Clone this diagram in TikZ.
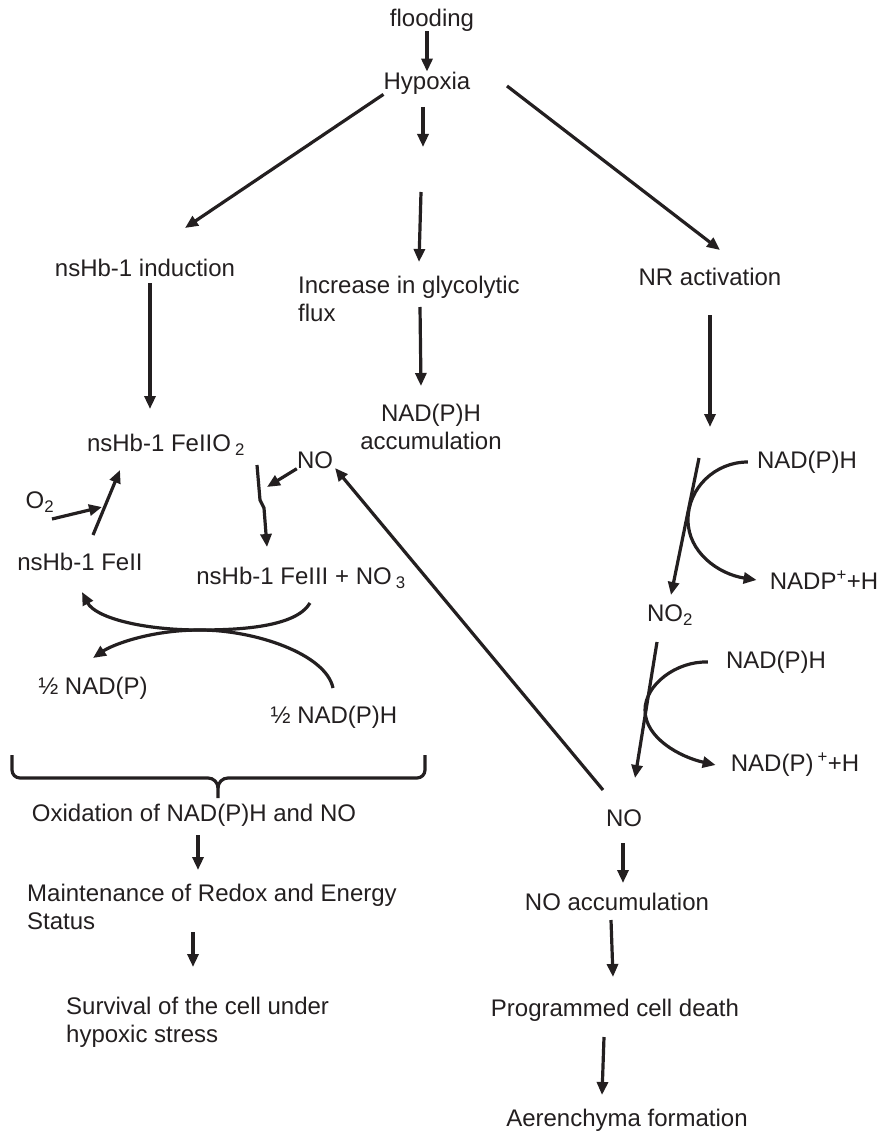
\documentclass[tikz,border=0pt]{standalone}
\usepackage{fontspec}
\setmainfont{Liberation Sans}
\usetikzlibrary{arrows.meta}
\definecolor{ink}{HTML}{231F20}

\begin{document}
\begin{tikzpicture}[x=1pt, y=-1pt,
    txt/.style={inner sep=0pt, text=ink, font=\fontsize{24}{28}\selectfont},
    wire/.style={line width=3.2pt, draw=ink},
    arr/.style={wire, -{Triangle[length=13pt,width=11pt]}}]
                        \useasboundingbox (0,0) rectangle (884,1134);
                        % Nodes:
                        \node[txt](flood) at (432,20){flooding};
                        \node[txt](hyp) at (427,83){Hypoxia};
                        \node[txt](hbind) at (145,268){nsHb-1 induction};
                        \node[txt, align=left, anchor=west](glyc) at (298,299){Increase in glycolytic\\flux};
                        \node[txt](nract) at (710,277){NR activation};
                        \node[txt, align=center](nacc) at (431,427){NAD(P)H\\accumulation};
                        \node[txt](hbo) at (166,445){nsHb-1 FeIIO\,\textsubscript{2}};
                        \node[txt](nos) at (315,460){NO};
                        \node[txt](oxy) at (40,502){O\textsubscript{2}};
                        \node[txt](hbii) at (80,562){nsHb-1 FeII};
                        \node[txt](hbiii) at (301,578){nsHb-1 FeIII + NO\,\textsubscript{3}};
                        \node[txt](hnad) at (93,688){½ NAD(P)};
                        \node[txt](hnadh) at (334,717){½ NAD(P)H};
                        \node[txt](oxid) at (194,815){Oxidation of NAD(P)H and NO};
                        \node[txt, align=left, anchor=west](maint) at (27,907){Maintenance of Redox and Energy\\Status};
                        \node[txt, align=left, anchor=west](surv) at (66,1022){Survival of the cell under\\hypoxic stress};
                        \node[txt](nadha) at (807,462){NAD(P)H};
                        \node[txt](nadpa) at (824,580){NADP\textsuperscript{+}+H};
                        \node[txt](notwo) at (670,615){NO\textsubscript{2}};
                        \node[txt](nadhb) at (776,662){NAD(P)H};
                        \node[txt](nadpb) at (795,765){NAD(P)\,\textsuperscript{+}+H};
                        \node[txt](nor) at (624,818){NO};
                        \node[txt](noacc) at (617,902){NO accumulation};
                        \node[txt](pcd) at (615,1010){Programmed cell death};
                        \node[txt](aer) at (627,1120){Aerenchyma formation};
                        % Arrow ends:
                        \coordinate (hbtip) at (185,228);
                        \coordinate (glA) at (423,107);
                        \coordinate (glB) at (423,147);
                        \coordinate (glC) at (421,192);
                        \coordinate (glD) at (419,262);
                        \coordinate (nrA) at (507,86);
                        \coordinate (nrB) at (720,250);
                        \coordinate (indA) at (150,283);
                        \coordinate (indB) at (150,409);
                        \coordinate (fluxA) at (420,307);
                        \coordinate (fluxB) at (421,386);
                        \coordinate (actA) at (710,315);
                        \coordinate (actB) at (710,427);
                        \coordinate (redA) at (699,458);
                        \coordinate (redB) at (671,595);
                        \coordinate (redC) at (657,642);
                        \coordinate (redD) at (635,778);
                        \coordinate (noA) at (603,790);
                        \coordinate (noB) at (335,468);
                        \coordinate (nosB) at (267,487);
                        \coordinate (oxoA) at (257,465);
                        \coordinate (oxoB) at (267,547);
                        \coordinate (feA) at (93,535);
                        \coordinate (feB) at (120,470);
                        \coordinate (otwoA) at (52,519);
                        \coordinate (otwoB) at (102,507);
                        \coordinate (mid) at (200,630);
                        % Main chain:
                        \draw[arr] (flood.south -| hyp.north) -- (hyp.north);
                        \draw[arr] (hyp.south west) -- (hbtip);
                        \draw[arr] (glA) -- (glB);
                        \draw[arr] (glC) -- (glD);
                        \draw[arr] (nrA) -- (nrB);
                        \draw[arr] (indA) -- (indB);
                        \draw[arr] (fluxA) -- (fluxB);
                        \draw[arr] (actA) -- (actB);
                        % Nitrate reductase steps:
                        \draw[arr] (redA) -- (redB);
                        \draw[arr] ([xshift=-9pt]nadha.west) .. controls (715,462) and (688,488) .. (688,520)
                            .. controls (688,552) and (718,574) .. ([xshift=-13pt]nadpa.west);
                        \draw[arr] (redC) -- (redD);
                        \draw[arr] ([xshift=-18pt]nadhb.west) .. controls (676,661) and (645,685) .. (645,710)
                            .. controls (645,738) and (680,757) .. ([xshift=-15pt]nadpb.west);
                        \draw[arr] (noA) -- (noB);
                        % nsHb-1 cycle:
                        \draw[arr] (nos.south west) -- (nosB);
                        \draw[arr] (oxoA) -- (260,500) -- (264,508) -- (oxoB);
                        \draw[arr] (feA) -- (feB);
                        \draw[arr] (otwoA) -- (otwoB);
                        \draw[arr] (310,603) .. controls (296,627) and (240,630) .. (mid)
                            .. controls (140,630) and (95,617) .. (82,592);
                        \draw[arr] (333,688) .. controls (326,654) and (255,630) .. (mid)
                            .. controls (150,630) and (112,645) .. (93,658);
                        % Brace:
                        \draw[wire] (12,755) -- (12,770) to[out=-90,in=180] (20,778) -- (208,778)
                            to[out=0,in=90] (218,788) -- (218,798);
                        \draw[wire] (425,755) -- (425,770) to[out=-90,in=0] (417,778) -- (228,778)
                            to[out=180,in=90] (218,788);
                        % Outcomes:
                        \draw[arr] (198,835) -- (198,870);
                        \draw[arr] (193,932) -- (193,967);
                        \draw[arr] (623,843) -- (623,883);
                        \draw[arr] (611,920) -- (613,977);
                        \draw[arr] (604,1037) -- (602,1095);
                    \end{tikzpicture}
\end{document}
